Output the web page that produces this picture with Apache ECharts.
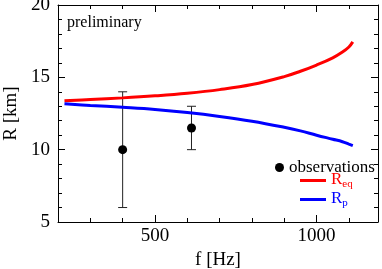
<!DOCTYPE html>
<html>
<head>
<meta charset="utf-8">
<script src="https://cdn.jsdelivr.net/npm/echarts@6/dist/echarts.min.js"></script>
<style>
html,body{margin:0;padding:0;background:#fff;}
#c{width:382px;height:269px;}
</style>
</head>
<body>
<div id="c"></div>
<script>
// Data
const freqs = [220, 300, 400, 500, 600, 700, 800, 900, 950, 1000, 1050, 1080, 1100, 1112];
const rEq   = [13.38, 13.47, 13.58, 13.72, 13.9, 14.15, 14.5, 15.05, 15.42, 15.85, 16.35, 16.75, 17.1, 17.45];
const rP    = [13.17, 13.06, 12.93, 12.78, 12.57, 12.3, 11.97, 11.55, 11.3, 11.0, 10.72, 10.55, 10.38, 10.28];
const obsFreq = [400, 613];
const obsR    = [10, 11.5];
const obsLow  = [6, 10];
const obsHigh = [14, 13];
const xMajorTicks = [500, 1000];
const xMinorTicks = [200, 300, 400, 500, 600, 700, 800, 900, 1000, 1100];

const FONT = 'Liberation Serif';
const chart = echarts.init(document.getElementById('c'));

const xBase = {type: 'value', min: 200, max: 1190, gridIndex: 0, splitLine: {show: false}};
const axisLineStyle = {show: true, lineStyle: {color: '#000', width: 1}};
const plain = v => String(v);

const option = {
  animation: false,
  backgroundColor: '#fff',
  grid: {left: 58, right: 4, top: 5, bottom: 47, containLabel: false, outerBoundsMode: 'none'},
  textStyle: {fontFamily: FONT},
  xAxis: [
    Object.assign({}, xBase, {
      position: 'bottom',
      axisLine: axisLineStyle,
      axisTick: {show: true, inside: true, length: 7, customValues: xMajorTicks, lineStyle: {color: '#000'}},
      axisLabel: {show: true, customValues: xMajorTicks, formatter: plain, color: '#000', fontFamily: FONT, fontSize: 19, margin: 5},
      name: 'f [Hz]', nameLocation: 'middle', nameGap: 27,
      nameTextStyle: {color: '#000', fontFamily: FONT, fontSize: 19}
    }),
    Object.assign({}, xBase, {
      position: 'bottom',
      axisLine: {show: false},
      axisTick: {show: true, inside: true, length: 4, customValues: xMinorTicks, lineStyle: {color: '#000'}},
      axisLabel: {show: false}
    }),
    Object.assign({}, xBase, {
      position: 'top',
      axisLine: axisLineStyle,
      axisTick: {show: true, inside: true, length: 7, customValues: xMajorTicks, lineStyle: {color: '#000'}},
      axisLabel: {show: false}
    }),
    Object.assign({}, xBase, {
      position: 'top',
      axisLine: {show: false},
      axisTick: {show: true, inside: true, length: 4, customValues: xMinorTicks, lineStyle: {color: '#000'}},
      axisLabel: {show: false}
    })
  ],
  yAxis: [
    {
      type: 'value', min: 5, max: 20, interval: 5, position: 'left',
      axisLine: axisLineStyle,
      axisTick: {show: true, inside: true, length: 7, lineStyle: {color: '#000'}},
      minorTick: {show: true, splitNumber: 5, length: 4, lineStyle: {color: '#000'}},
      splitLine: {show: false},
      axisLabel: {color: '#000', fontFamily: FONT, fontSize: 19, margin: 8},
      name: 'R [km]', nameLocation: 'middle', nameGap: 36, nameRotate: 90,
      nameTextStyle: {color: '#000', fontFamily: FONT, fontSize: 19}
    },
    {
      type: 'value', min: 5, max: 20, interval: 5, position: 'right',
      axisLine: axisLineStyle,
      axisTick: {show: true, inside: true, length: 7, lineStyle: {color: '#000'}},
      minorTick: {show: true, splitNumber: 5, length: 4, lineStyle: {color: '#000'}},
      splitLine: {show: false},
      axisLabel: {show: false}
    }
  ],
  legend: [
    {
      data: [{name: 'observations', icon: 'circle', itemStyle: {color: '#000'}}],
      left: 275, top: 159, padding: 0, itemWidth: 9, itemHeight: 9, itemGap: 0,
      textStyle: {color: '#000', fontFamily: FONT, fontSize: 17},
      selectedMode: false
    },
    {
      data: [{name: 'R_eq', icon: 'rect', itemStyle: {color: '#ff0000'}}],
      left: 300, top: 171, padding: 0, itemWidth: 26, itemHeight: 3, itemGap: 0,
      formatter: function () { return '{m|R}{s|eq}'; },
      textStyle: {color: '#ff0000', fontFamily: FONT, fontSize: 17,
        rich: {m: {fontSize: 17, color: '#ff0000', fontFamily: FONT, verticalAlign: 'top'},
               s: {fontSize: 11, color: '#ff0000', fontFamily: FONT, verticalAlign: 'bottom', padding: [8, 0, 0, 0]}}},
      selectedMode: false
    },
    {
      data: [{name: 'R_p', icon: 'rect', itemStyle: {color: '#0000ff'}}],
      left: 300, top: 190, padding: 0, itemWidth: 26, itemHeight: 3, itemGap: 0,
      formatter: function () { return '{m|R}{s|p}'; },
      textStyle: {color: '#0000ff', fontFamily: FONT, fontSize: 17,
        rich: {m: {fontSize: 17, color: '#0000ff', fontFamily: FONT, verticalAlign: 'top'},
               s: {fontSize: 11, color: '#0000ff', fontFamily: FONT, verticalAlign: 'bottom', padding: [8, 0, 0, 0]}}},
      selectedMode: false
    }
  ],
  graphic: [
    {type: 'text', left: 67, top: 15, style: {text: 'preliminary', fill: '#000', fontSize: 16, fontFamily: FONT}}
  ],
  series: [
    {
      name: 'R_eq', type: 'line', xAxisIndex: 0, yAxisIndex: 0, smooth: 0.4, symbol: 'none',
      lineStyle: {color: '#ff0000', width: 3}, itemStyle: {color: '#ff0000'},
      data: freqs.map((f, i) => [f, rEq[i]])
    },
    {
      name: 'R_p', type: 'line', xAxisIndex: 0, yAxisIndex: 0, smooth: 0.4, symbol: 'none',
      lineStyle: {color: '#0000ff', width: 3}, itemStyle: {color: '#0000ff'},
      data: freqs.map((f, i) => [f, rP[i]])
    },
    {
      name: 'errorbars', type: 'custom', xAxisIndex: 0, yAxisIndex: 0, z: 3,
      data: obsFreq.map((f, i) => [f, obsLow[i], obsHigh[i]]),
      renderItem: function (params, api) {
        const lo = api.coord([api.value(0), api.value(1)]);
        const hi = api.coord([api.value(0), api.value(2)]);
        const w = 4.5;
        const st = {stroke: '#222', lineWidth: 1};
        return {type: 'group', children: [
          {type: 'line', shape: {x1: lo[0], y1: lo[1], x2: hi[0], y2: hi[1]}, style: st},
          {type: 'line', shape: {x1: lo[0] - w, y1: lo[1], x2: lo[0] + w, y2: lo[1]}, style: st},
          {type: 'line', shape: {x1: hi[0] - w, y1: hi[1], x2: hi[0] + w, y2: hi[1]}, style: st}
        ]};
      }
    },
    {
      name: 'observations', type: 'scatter', xAxisIndex: 0, yAxisIndex: 0, z: 4,
      symbol: 'circle', symbolSize: 9, itemStyle: {color: '#000', opacity: 1},
      data: obsFreq.map((f, i) => [f, obsR[i]])
    }
  ]
};
chart.setOption(option);
</script>
</body>
</html>
